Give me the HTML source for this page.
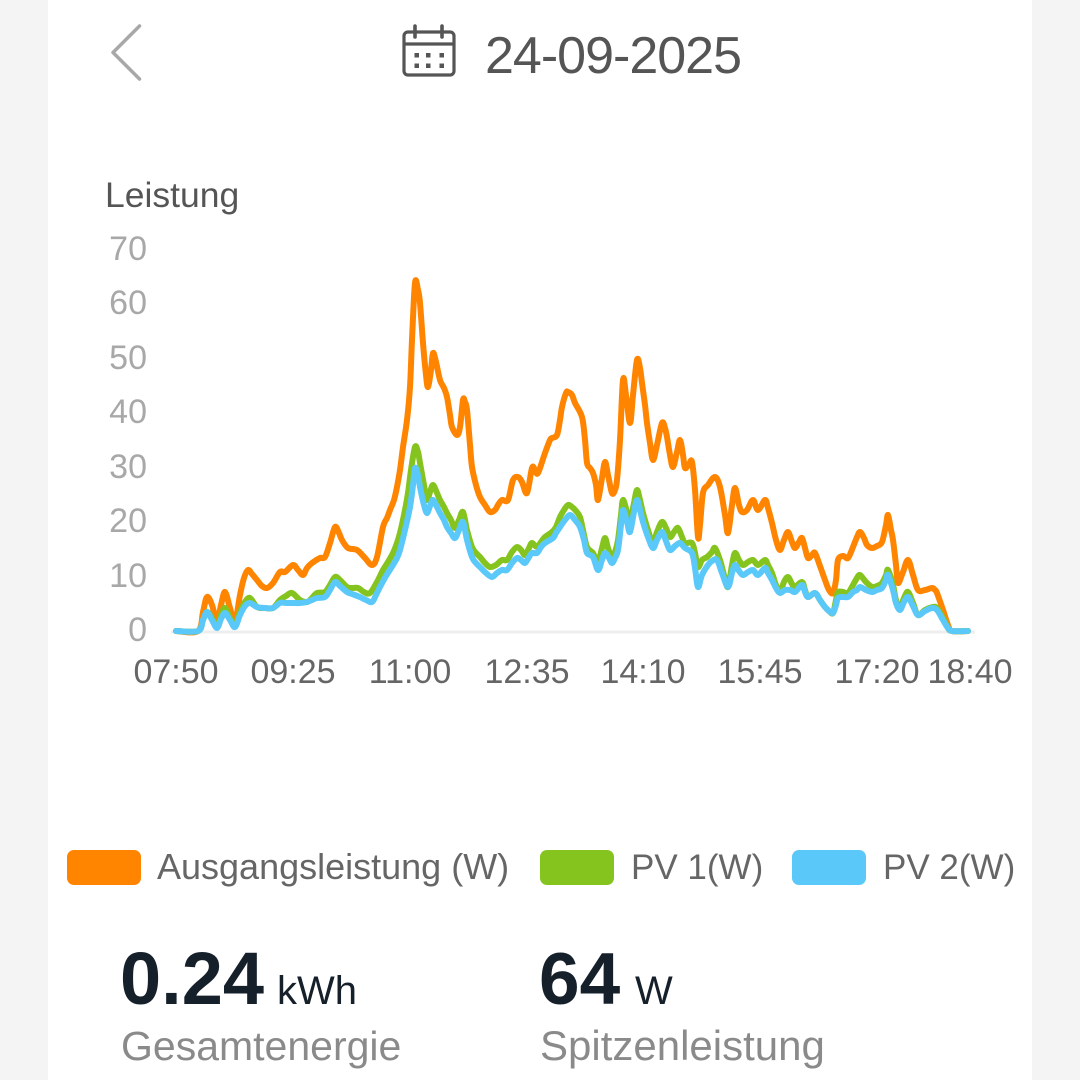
<!DOCTYPE html>
<html>
<head>
<meta charset="utf-8">
<style>
  html, body { margin:0; padding:0; }
  body { width:1080px; height:1080px; background:#f4f4f4; position:relative; overflow:hidden; }
  .panel { position:absolute; left:48px; top:0; width:984px; height:1080px; background:#ffffff; }
  svg { position:absolute; left:0; top:0; }
  text { font-family: "Liberation Sans", Arial, sans-serif; }
</style>
</head>
<body>
<div class="panel"></div>
<svg id="chart" width="1080" height="1080" viewBox="0 0 1080 1080" xmlns="http://www.w3.org/2000/svg">
  <!-- back chevron -->
  <polyline points="139.5,26 113,52.5 139.5,79" fill="none" stroke="#a8a8a8" stroke-width="3.5" stroke-linecap="round" stroke-linejoin="round"/>

  <!-- calendar icon -->
  <rect x="404" y="32" width="50" height="43" rx="4" ry="4" fill="none" stroke="#555" stroke-width="3.2"/>
  <line x1="404" y1="44" x2="454" y2="44" stroke="#555" stroke-width="3.2"/>
  <line x1="415" y1="26" x2="415" y2="37" stroke="#555" stroke-width="3.6" stroke-linecap="round"/>
  <line x1="442" y1="26" x2="442" y2="37" stroke="#555" stroke-width="3.6" stroke-linecap="round"/>
  <g fill="#555">
    <rect x="414.5" y="53" width="4.5" height="4.5"/>
    <rect x="426" y="53" width="4.5" height="4.5"/>
    <rect x="439.5" y="53" width="4.5" height="4.5"/>
    <rect x="414.5" y="63.5" width="4.5" height="4.5"/>
    <rect x="426" y="63.5" width="4.5" height="4.5"/>
    <rect x="439.5" y="63.5" width="4.5" height="4.5"/>
  </g>

  <!-- date -->
  <text x="485" y="73" font-size="52" fill="#555" letter-spacing="-1">24-09-2025</text>

  <!-- axis title -->
  <text x="105" y="207" font-size="35.5" fill="#555">Leistung</text>

  <!-- y tick labels -->
  <g font-size="34" fill="#a8a8a8" text-anchor="end">
    <text x="147" y="260">70</text>
    <text x="147" y="314">60</text>
    <text x="147" y="369">50</text>
    <text x="147" y="423">40</text>
    <text x="147" y="478">30</text>
    <text x="147" y="532">20</text>
    <text x="147" y="587">10</text>
    <text x="147" y="641">0</text>
  </g>

  <!-- x axis line -->
  <line x1="171" y1="632" x2="975" y2="632" stroke="#eeeeee" stroke-width="3"/>

  <!-- x tick labels -->
  <g font-size="34" fill="#666" text-anchor="middle">
    <text x="176" y="683">07:50</text>
    <text x="293" y="683">09:25</text>
    <text x="410" y="683">11:00</text>
    <text x="527" y="683">12:35</text>
    <text x="643" y="683">14:10</text>
    <text x="760" y="683">15:45</text>
    <text x="877" y="683">17:20</text>
    <text x="970" y="683">18:40</text>
  </g>

  <!-- series -->
  <g id="series" fill="none" stroke-width="6" stroke-linejoin="round" stroke-linecap="round">
    <polyline stroke="#ff8500" points="176,631 198,631 203,612 207,597 212,605 217,622 221,605 225,592 230,608 235,622 240,595 244,578 248,570 252,574 257,580 262,586 267,588 273,583 280,572 285,572 293,565 298,570 303,575 307,568 312,563 320,558 325,557 330,543 335,527 339,533 342,540 348,548 357,550 365,558 372,565 377,557 383,527 387,518 390,510 394,500 397,487 400,470 403,447 407,420 410,387 412,340 415,283 418,290 420,303 423,343 426,375 428,387 431,370 433,353 436,362 440,380 444,388 447,397 450,415 452,427 457,435 460,427 463,400 465,402 467,410 470,445 472,467 476,485 480,497 485,505 490,512 495,510 498,505 502,500 508,500 513,480 518,477 522,482 527,493 532,468 535,470 538,473 545,453 550,440 552,438 557,435 560,420 562,407 566,393 568,392 572,395 575,403 582,417 585,440 587,463 590,468 593,473 596,485 598,500 602,478 605,462 608,475 612,493 615,490 617,480 620,440 623,380 626,395 630,423 633,395 637,360 640,368 642,383 645,405 647,423 650,443 653,460 657,445 662,423 665,428 667,437 670,455 673,467 677,452 680,440 683,455 685,468 689,464 692,462 695,490 698,537 700,525 703,493 708,485 715,477 720,487 725,515 728,533 732,505 735,488 739,505 742,512 747,510 753,500 758,510 765,500 768,508 772,523 776,540 780,550 784,540 788,532 792,542 795,548 799,542 802,538 805,548 808,558 812,555 815,553 820,566 825,580 829,590 833,593 836,580 838,560 843,556 848,558 853,547 857,537 860,532 864,538 867,545 872,548 877,546 882,542 886,525 888,515 891,530 893,540 896,565 898,583 903,572 908,560 913,575 918,590 925,590 932,588 935,590 937,593 943,610 948,625 952,631 968,631"/>
    <polyline stroke="#85c41f" points="176,631 198,631 203,620 207,612 212,618 217,627 221,615 225,608 230,618 235,625 240,612 245,602 250,598 257,607 265,608 273,608 280,600 286,596 292,593 300,600 307,602 312,598 317,593 325,592 330,585 335,577 340,580 347,587 352,588 358,588 364,592 370,593 377,582 383,570 388,562 393,553 397,543 400,533 404,515 408,493 411,470 415,447 418,452 420,463 424,485 427,500 430,492 433,485 437,493 440,500 444,507 447,513 451,520 455,528 459,520 463,512 467,530 472,547 476,553 480,557 485,563 490,567 496,565 502,560 507,560 512,552 517,547 521,550 525,555 529,548 532,543 537,547 541,542 545,537 552,532 556,527 560,517 564,510 568,505 572,507 576,511 580,517 583,530 587,547 593,553 598,562 602,548 605,538 608,548 612,558 615,552 618,540 621,515 623,500 627,512 630,522 634,503 637,490 640,500 643,513 648,530 653,543 657,532 662,522 666,528 670,537 674,532 678,528 682,537 685,543 692,543 695,553 698,567 702,560 707,557 712,552 715,548 720,560 724,575 728,587 732,565 735,553 739,560 743,565 748,562 753,560 758,565 765,560 768,565 772,573 776,585 780,592 784,582 788,577 792,584 795,587 802,582 805,590 808,597 815,593 820,600 825,607 829,611 833,613 836,600 838,592 843,592 848,593 853,585 857,578 860,575 866,582 872,587 877,586 882,583 886,575 888,570 893,585 896,600 900,608 904,598 908,592 913,603 918,615 925,610 933,607 937,608 943,618 948,628 952,631 968,631"/>
    <polyline stroke="#5bc8fa" points="176,631 198,631 203,620 207,612 212,620 217,628 221,619 225,613 230,620 235,627 240,615 245,606 250,603 257,607 265,608 273,608 280,603 286,603 292,603 300,603 307,602 312,600 317,598 325,597 330,590 335,582 340,586 347,592 352,594 360,597 366,600 372,602 376,595 380,587 386,576 393,565 397,558 400,550 405,530 410,507 413,485 415,468 418,475 420,487 424,505 427,513 430,506 433,500 437,507 440,513 444,520 447,527 451,533 455,538 459,530 463,522 467,540 472,557 476,563 480,567 486,573 492,577 497,573 502,570 507,570 512,563 517,558 521,560 525,563 529,557 532,553 537,553 541,547 545,543 553,538 556,533 560,527 565,520 570,515 575,520 580,527 584,540 587,553 593,557 598,570 602,560 605,553 609,558 612,563 615,558 618,550 621,525 623,510 627,522 630,532 634,512 637,500 640,510 643,522 648,537 653,548 657,540 662,532 666,541 670,550 675,546 680,543 685,548 692,553 695,568 698,587 702,575 708,565 712,561 717,560 722,573 728,587 732,573 735,565 739,571 743,575 748,572 753,570 758,575 765,568 768,573 772,580 776,588 780,593 785,590 790,590 795,592 802,585 805,592 808,597 815,593 820,600 825,607 829,611 833,613 836,605 838,598 843,597 848,597 853,592 857,590 860,587 866,590 872,592 877,590 882,588 886,580 888,575 893,590 896,603 900,610 904,602 908,597 913,606 918,615 925,611 932,608 937,610 943,620 948,628 952,631 968,631"/>
  </g>

  <!-- legend -->
  <rect x="67" y="850" width="74" height="35" rx="7" ry="7" fill="#ff8400"/>
  <text x="157" y="879" font-size="36" fill="#666">Ausgangsleistung (W)</text>
  <rect x="540" y="850" width="74" height="35" rx="7" ry="7" fill="#85c41f"/>
  <text x="631" y="879" font-size="35" fill="#666">PV 1(W)</text>
  <rect x="792" y="850" width="74" height="35" rx="7" ry="7" fill="#5bc8fa"/>
  <text x="883" y="879" font-size="35" fill="#666">PV 2(W)</text>

  <!-- stats -->
  <text x="120" y="1004" font-size="74" font-weight="bold" fill="#15202b">0.24</text>
  <text x="277" y="1004" font-size="40" fill="#15202b">kWh</text>
  <text x="121" y="1060" font-size="41" fill="#8a8a8a">Gesamtenergie</text>

  <text x="539" y="1004" font-size="73" font-weight="bold" fill="#15202b">64</text>
  <text x="635" y="1004" font-size="40" fill="#15202b">W</text>
  <text x="540" y="1060" font-size="42" fill="#8a8a8a">Spitzenleistung</text>
</svg>
<script>
(function(){
  try {
    var NS = "http://www.w3.org/2000/svg";
    var lines = document.querySelectorAll('#series polyline');
    for (var k = 0; k < lines.length; k++) {
      var pl = lines[k];
      var pts = pl.getAttribute('points').trim().split(/\s+/).map(function(s){var a=s.split(',');return [parseFloat(a[0]),parseFloat(a[1])];});
      var d = 'M' + pts[0][0] + ',' + pts[0][1];
      var t = 1/6;
      for (var i = 0; i < pts.length - 1; i++) {
        var p0 = pts[i-1] || pts[i], p1 = pts[i], p2 = pts[i+1], p3 = pts[i+2] || pts[i+1];
        var c1x = p1[0] + (p2[0]-p0[0])*t, c1y = p1[1] + (p2[1]-p0[1])*t;
        var c2x = p2[0] - (p3[0]-p1[0])*t, c2y = p2[1] - (p3[1]-p1[1])*t;
        d += ' C' + c1x.toFixed(2) + ',' + c1y.toFixed(2) + ' ' + c2x.toFixed(2) + ',' + c2y.toFixed(2) + ' ' + p2[0] + ',' + p2[1];
      }
      var path = document.createElementNS(NS, 'path');
      path.setAttribute('d', d);
      path.setAttribute('stroke', pl.getAttribute('stroke'));
      pl.parentNode.replaceChild(path, pl);
    }
  } catch(e) {}
})();
</script>
</body>
</html>
